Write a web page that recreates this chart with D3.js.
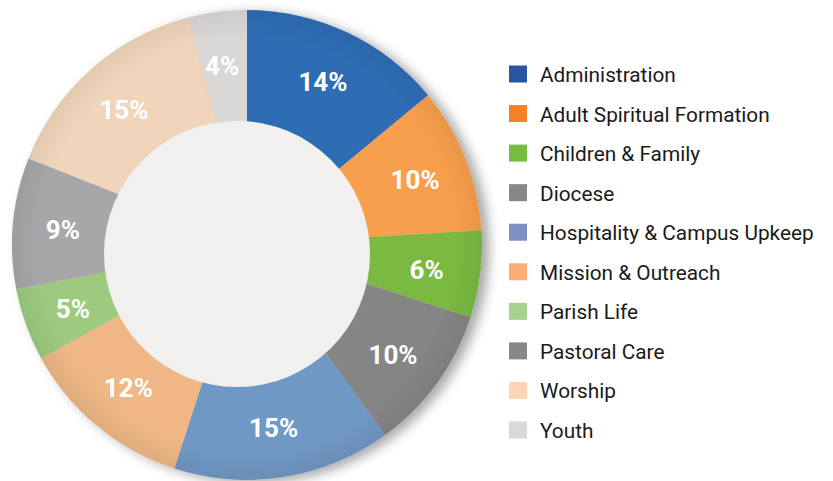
<!DOCTYPE html>
<html>
<head>
<meta charset="utf-8">
<script src="https://cdn.jsdelivr.net/npm/d3@7"></script>
<style>
  html, body { margin: 0; padding: 0; background: #fff; }
  svg { display: block; }
</style>
</head>
<body>
<div id="chart"></div>
<script>
const CATEGORIES = ["Administration", "Adult Spiritual Formation", "Children & Family", "Diocese",
  "Hospitality & Campus Upkeep", "Mission & Outreach", "Parish Life", "Pastoral Care", "Worship", "Youth"];
const VALUES = [14, 10, 6, 10, 15, 12, 5, 9, 15, 4];
const SLICE_COLORS = ["#2f6db4", "#f79f4e", "#7aba43", "#858586", "#7098c4",
  "#eeb785", "#9dca7f", "#a7a7a9", "#f0d5bb", "#d9d8d6"];
const LEGEND_COLORS = ["#2b55a3", "#f58025", "#77bc43", "#88888a", "#7f8fbf",
  "#f9ad74", "#a8d18e", "#88888a", "#fdd5b5", "#d9d9d9"];

const width = 833, height = 481;
const cx = 247, cy = 245, outerR = 235;

const svg = d3.select("#chart").append("svg")
  .attr("width", width)
  .attr("height", height);

const defs = svg.append("defs");
defs.append("filter")
  .attr("id", "shadow")
  .attr("x", "-20%").attr("y", "-20%").attr("width", "140%").attr("height", "140%")
  .append("feDropShadow")
  .attr("dx", 7).attr("dy", 3)
  .attr("stdDeviation", 6)
  .attr("flood-color", "#000")
  .attr("flood-opacity", 0.35);

// soft darkening towards the outer left rim, like the original
const shade = defs.append("radialGradient")
  .attr("id", "rim")
  .attr("gradientUnits", "userSpaceOnUse")
  .attr("cx", 0).attr("cy", 0).attr("r", outerR);
shade.append("stop").attr("offset", "0.88").attr("stop-color", "#000").attr("stop-opacity", 0);
shade.append("stop").attr("offset", "1").attr("stop-color", "#000").attr("stop-opacity", 0.06);

const data = CATEGORIES.map((c, i) => ({ name: c, value: VALUES[i], color: SLICE_COLORS[i] }));

const pie = d3.pie().value(d => d.value).sort(null);
const arcs = pie(data);

const arcFill = d3.arc().innerRadius(0).outerRadius(outerR);
const arcLabel = d3.arc().innerRadius(131).outerRadius(outerR);

const g = svg.append("g").attr("transform", `translate(${cx},${cy})`);

g.append("g")
  .attr("filter", "url(#shadow)")
  .selectAll("path")
  .data(arcs)
  .join("path")
  .attr("d", arcFill)
  .attr("fill", d => d.data.color);

g.append("circle")
  .attr("r", outerR)
  .attr("fill", "url(#rim)");

// hole of the ring (sits a little off the ring's centre in the original)
g.append("circle")
  .attr("cx", -10)
  .attr("cy", 9)
  .attr("r", 133)
  .attr("fill", "#f1f0ef");

g.append("g")
  .attr("transform", "translate(-2,2)")
  .selectAll("text.pct")
  .data(arcs)
  .join("text")
  .attr("class", "pct")
  .attr("transform", d => `translate(${arcLabel.centroid(d)})`)
  .attr("text-anchor", "middle")
  .attr("dy", "0.36em")
  .style("font-family", "Roboto, 'Liberation Sans', sans-serif")
  .style("font-weight", "bold")
  .style("font-size", "26px")
  .style("fill", "#fff")
  .text(d => d.data.value + "%");

// legend
const ly = d3.scalePoint().domain(CATEGORIES).range([74, 430]);
const legend = svg.append("g");
const rows = legend.selectAll("g")
  .data(CATEGORIES)
  .join("g")
  .attr("transform", d => `translate(509,${ly(d)})`);

rows.append("rect")
  .attr("x", 0).attr("y", -8.5)
  .attr("width", 18).attr("height", 17)
  .attr("fill", (d, i) => LEGEND_COLORS[i]);

rows.append("text")
  .attr("x", 31)
  .attr("y", 1)
  .attr("dominant-baseline", "central")
  .style("font-family", "Roboto, 'Liberation Sans', sans-serif")
  .style("font-size", "20.8px")
  .style("fill", "#1a1a1a")
  .text(d => d);
</script>
</body>
</html>
